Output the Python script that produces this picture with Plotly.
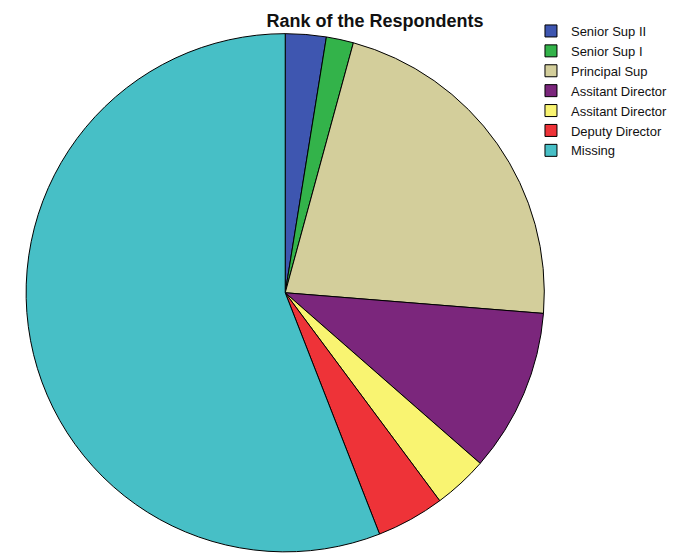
import plotly.graph_objects as go

labels = ["Senior Sup II", "Senior Sup I", "Principal Sup", "Assitant Director II",
          "Assitant Director I", "Deputy Director", "Missing"]
values = [3, 2, 26, 12, 4, 5, 66]
colors = ["#3E56B0", "#33B34A", "#D3CE9B", "#7B267C", "#F9F471", "#EE3338", "#47BFC6"]

fig = go.Figure(go.Pie(
    labels=labels, values=values, sort=False, direction="clockwise", rotation=0,
    marker=dict(colors=colors, line=dict(color="black", width=1)),
    textinfo="none", hoverinfo="label+value+percent",
    domain=dict(x=[19/675, 563/675], y=[0.01, 0.962]),
))
fig.update_layout(
    width=675, height=554,
    margin=dict(l=0, r=0, t=0, b=0),
    paper_bgcolor="white", plot_bgcolor="white",
    font=dict(family="Liberation Sans, Arial, sans-serif", color="black"),
    title=dict(text="<b>Rank of the Respondents</b>", x=367/675, xanchor="center",
               y=1-13/554, yanchor="middle", font=dict(size=18, color="#111111")),
    legend=dict(x=549/675, xanchor="left", y=1-8/554, yanchor="top",
                font=dict(size=13, color="#111111"), itemwidth=30, tracegroupgap=0,
                bgcolor="rgba(0,0,0,0)"),
)
fig.write_html("out.html")
